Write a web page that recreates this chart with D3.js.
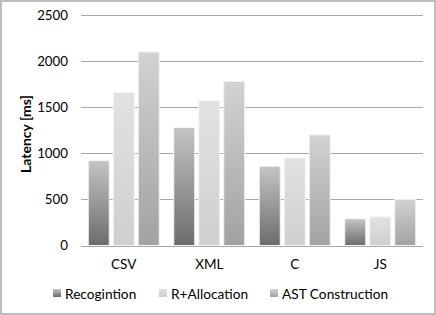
<!DOCTYPE html>
<html>
<head>
<meta charset="utf-8">
<script src="https://cdn.jsdelivr.net/npm/d3@7"></script>
<style>
html,body{margin:0;padding:0;background:#fff;}
svg{display:block;}
text{font-family:Lato,"Open Sans",sans-serif;fill:#000;}
</style>
</head>
<body>
<script>
const categories = ["CSV", "XML", "C", "JS"];
const seriesNames = ["Recogintion", "R+Allocation", "AST Construction"];
const recognition = [920, 1280, 860, 290];
const allocation = [1660, 1570, 950, 310];
const astConstruction = [2100, 1780, 1200, 500];
const yTicks = [0, 500, 1000, 1500, 2000, 2500];
const yTitle = "Latency [ms]";

const seriesValues = [recognition, allocation, astConstruction];
const W = 436, H = 315;
const svg = d3.select("body").append("svg").attr("width", W).attr("height", H);

const defs = svg.append("defs");
const grads = [
  {id: "g0", top: "#c4c4c4", bottom: "#6c6c6c"},
  {id: "g1", top: "#e2e2e2", bottom: "#cfcfcf"},
  {id: "g2", top: "#d2d2d2", bottom: "#a2a2a2"}
];
grads.forEach(g => {
  const lg = defs.append("linearGradient").attr("id", g.id)
    .attr("x1", 0).attr("y1", 0).attr("x2", 0).attr("y2", 1);
  lg.append("stop").attr("offset", "0%").attr("stop-color", g.top);
  lg.append("stop").attr("offset", "100%").attr("stop-color", g.bottom);
});

// frame
svg.append("rect").attr("x", 1).attr("y", 1).attr("width", W - 2).attr("height", H - 2)
  .attr("fill", "#fff").attr("stroke", "#bdbdbd").attr("stroke-width", 2);

const y = d3.scaleLinear().domain([0, 2500]).range([245.5, 15]);
const x0 = d3.scaleBand().domain(categories).range([81, 423]).paddingInner(0.17).paddingOuter(0.085);
const x1 = d3.scaleBand().domain(seriesNames).range([0, x0.bandwidth()]).paddingInner(0.16).paddingOuter(0);

// gridlines
const gridG = svg.append("g");
gridG.selectAll("line").data(yTicks).join("line")
  .attr("x1", 81).attr("x2", 423)
  .attr("y1", d => Math.round(y(d)) + 0.5).attr("y2", d => Math.round(y(d)) + 0.5)
  .attr("stroke", "#a8a8a8").attr("stroke-width", 1);

// y axis labels
const yAxis = d3.axisLeft(y).tickValues(yTicks).tickSize(0).tickPadding(0).tickFormat(d3.format("d"));
const yg = svg.append("g").attr("transform", "translate(68,0)").call(yAxis);
yg.select(".domain").remove();
yg.selectAll("text").attr("font-size", 13.3).attr("font-family", "Lato, sans-serif").attr("fill", "#000");

// bars
const groups = svg.append("g").selectAll("g").data(categories).join("g")
  .attr("transform", d => `translate(${x0(d)},0)`);
groups.selectAll("rect").data((c, ci) => seriesNames.map((s, si) => ({s, si, v: seriesValues[si][ci]})))
  .join("rect")
  .attr("x", d => x1(d.s))
  .attr("width", x1.bandwidth())
  .attr("y", d => y(d.v))
  .attr("height", d => y(0) - y(d.v))
  .attr("fill", d => `url(#g${d.si})`)
  .attr("stroke", "#f4f4f4").attr("stroke-width", 1);

// x axis labels
const xAxis = d3.axisBottom(x0).tickSize(0).tickPadding(0);
const xg = svg.append("g").attr("transform", "translate(0,259)").call(xAxis);
xg.select(".domain").remove();
xg.selectAll("text").attr("font-size", 13.5).attr("font-family", "Lato, sans-serif").attr("fill", "#000");

// y title
svg.append("text").attr("transform", "translate(31,134) rotate(-90)")
  .attr("text-anchor", "middle").attr("font-size", 14).attr("font-weight", "bold")
  .text(yTitle);

// legend
const legendX = [53, 159, 270];
const lg = svg.append("g");
seriesNames.forEach((s, i) => {
  lg.append("rect").attr("x", legendX[i]).attr("y", 289).attr("width", 8).attr("height", 8)
    .attr("fill", `url(#g${i})`);
  lg.append("text").attr("x", legendX[i] + 12).attr("y", 298.5).attr("font-size", 13.7).text(s);
});
</script>
</body>
</html>
